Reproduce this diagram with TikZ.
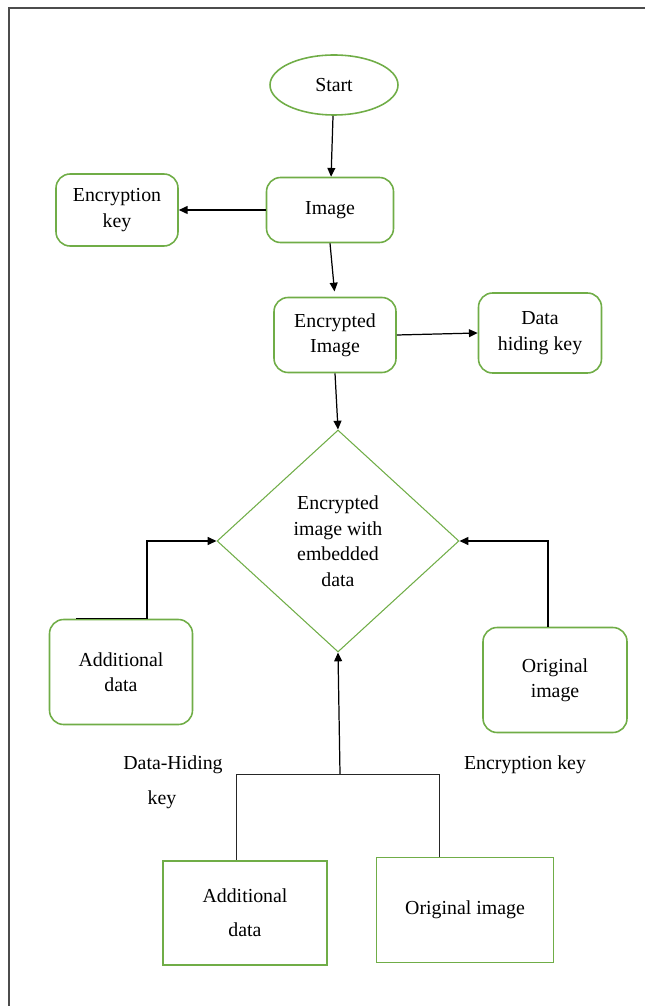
\documentclass[tikz,border=0pt]{standalone}
\usepackage{fontspec}
\setmainfont{Liberation Serif}
\usetikzlibrary{arrows.meta,shapes.geometric}
\definecolor{leaf}{HTML}{70AD47}

\begin{document}
\begin{tikzpicture}[x=0.02cm,y=-0.02cm,line width=0.7pt,
	arrows={-Triangle[length=5pt,width=4.5pt]},
	font=\fontsize{11.3}{14.5}\selectfont,
	rbox/.style={draw=leaf,line width=0.9pt,rounded corners=8pt,align=center},
	sbox/.style={draw=leaf,line width=1pt,align=center},
	plain/.style={-,line width=0.5pt,black!85}]
	\useasboundingbox (0,0) rectangle (645,1006);
	% page frame
	\draw[-,line width=1.1pt,black!70] (9,1006) -- (9,8) -- (645,8);

	\node[draw=leaf,line width=0.9pt,ellipse,minimum width=2.56cm,minimum height=1.2cm] (Start) at (334,85) {Start};
	\node[rbox,minimum width=2.54cm,minimum height=1.3cm] (Img) at (330,210) {Image};
	\node[rbox,minimum width=2.44cm,minimum height=1.44cm] (EncKey) at (117,210) {Encryption\\key};
	\node[rbox,minimum width=2.44cm,minimum height=1.5cm] (EncImg) at (335,335) {Encrypted\\Image};
	\node[rbox,minimum width=2.46cm,minimum height=1.6cm] (HideKey) at (540,333) {Data\\hiding key};
	\node[draw=leaf,line width=0.6pt,diamond,minimum width=4.84cm,minimum height=4.44cm,align=center] (Diam) at (338,541) {Encrypted\\image with\\embedded\\data};
	\node[rbox,minimum width=2.86cm,minimum height=2.1cm] (AddData) at (121,672) {Additional\\data};
	\node[rbox,minimum width=2.88cm,minimum height=2.1cm] (OrigImg) at (555,680) {Original\\image};
	\node[sbox,minimum width=3.28cm,minimum height=2.08cm] (AddData2) at (245,913) {Additional\\[5pt]data};
	\node[sbox,minimum width=3.54cm,minimum height=2.1cm] (OrigImg2) at (465,910) {Original image};

	\node (HideLbl) at (173,765) {Data-Hiding};
	\node (HideLbl2) at (162,800) {key};
	\node (EncLbl) at (525,765) {Encryption key};

	\coordinate (Jm) at (340,774);
	\coordinate (JL) at (236,774);
	\coordinate (JR) at (439,774);

	\draw (Start) -- (Img);
	\draw (Img.west) -- (EncKey.east);
	\draw[shorten >=3pt] (Img.south) -- (EncImg.north);
	\draw (EncImg.east) -- (HideKey.west);
	\draw (EncImg.south) -- (Diam.north);
	\draw (AddData.north) ++(-45,0) -- ++(71,0) |- (Diam.west);
	\draw (OrigImg.north) ++(-7,0) |- (Diam.east);
	\draw (Jm) -- (Diam.south);
	\draw[plain] (JL) -- (JR);
	\draw[plain] (JL) -- (JL |- AddData2.north);
	\draw[plain] (JR) -- (JR |- OrigImg2.north);
\end{tikzpicture}
\end{document}
